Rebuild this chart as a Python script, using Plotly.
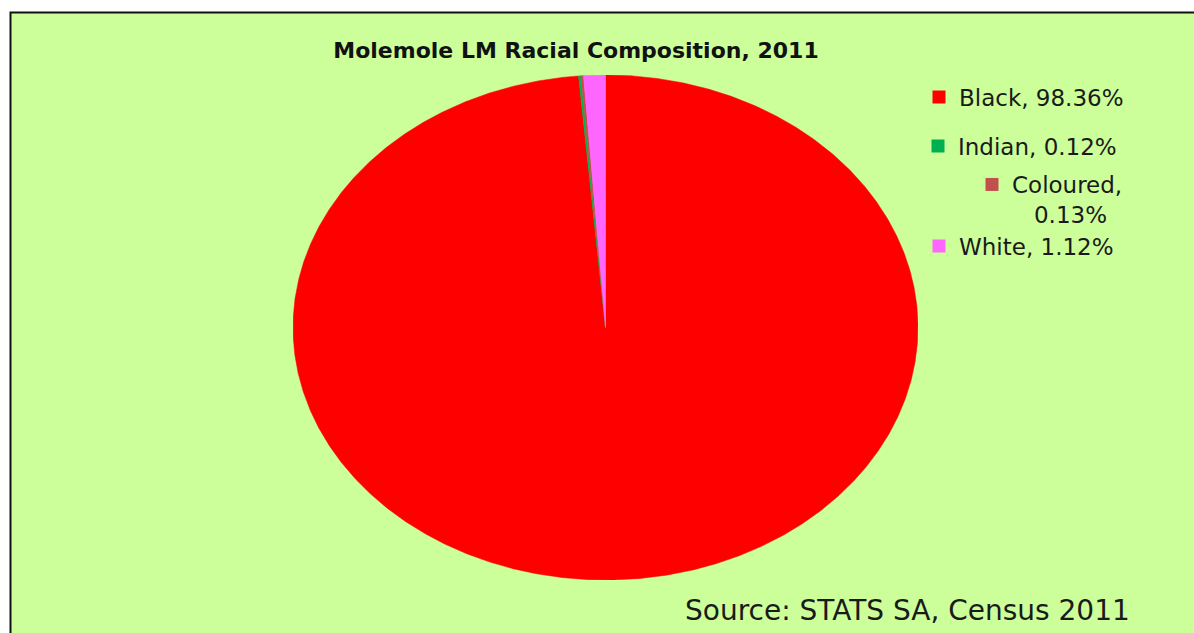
import numpy as np
import plotly.graph_objects as go

# ---- data ----
categories = ["Black", "Indian", "Coloured", "White"]
percentages = [98.36, 0.12, 0.13, 1.12]
legend_labels = ["Black, 98.36%", "Indian, 0.12%",
                 "Coloured,<br>\u00a0\u00a0\u00a00.13%", "White, 1.12%"]
colors = ["#FF0000", "#00B050", "#C0504D", "#FF66FF"]
title_text = "Molemole LM Racial Composition, 2011"
source_text = "Source: STATS SA, Census 2011"

W, H = 1194, 633
def px(x):
    return x / W
def py(y):
    return 1 - y / H

fig = go.Figure()

# pie slices drawn as filled polygons (elliptical pie), clockwise from 12 o'clock
total = sum(percentages)
cum = 0.0
for cat, val, col in zip(categories, percentages, colors):
    frac = val / total
    a0 = np.pi / 2 - 2 * np.pi * cum
    a1 = np.pi / 2 - 2 * np.pi * (cum + frac)
    n = max(3, int(frac * 1440) + 3)
    t = np.linspace(a0, a1, n)
    xs = np.concatenate([[0], np.cos(t), [0]])
    ys = np.concatenate([[0], np.sin(t), [0]])
    fig.add_trace(go.Scatter(x=xs, y=ys, mode="lines", fill="toself",
                             fillcolor=col, line=dict(color=col, width=0.5),
                             showlegend=False, hoverinfo="text", text=cat,
                             xaxis="x", yaxis="y"))
    cum += frac

# legend entries, each in its own legend box
legend_ids = ["legend", "legend2", "legend3", "legend4"]
for lab, col, lid in zip(legend_labels, colors, legend_ids):
    fig.add_trace(go.Scatter(x=[None], y=[None], mode="markers",
                             marker=dict(symbol="square", size=13, color=col),
                             name=lab, legend=lid, showlegend=True))

legend_font = dict(family="DejaVu Sans", size=23, color="#1a1a1a")
common = dict(font=legend_font, bgcolor="rgba(0,0,0,0)", borderwidth=0,
              xanchor="left", itemclick=False, itemdoubleclick=False)

fig.update_layout(
    width=W, height=H,
    margin=dict(l=0, r=0, t=0, b=0),
    paper_bgcolor="white",
    plot_bgcolor="rgba(0,0,0,0)",
    xaxis=dict(domain=[px(293), px(918)], range=[-1, 1], visible=False,
               fixedrange=True),
    yaxis=dict(domain=[py(580), py(75)], range=[-1, 1], visible=False,
               fixedrange=True),
    legend=dict(x=px(919), y=py(97), yanchor="middle", **common),
    legend2=dict(x=px(918), y=py(146), yanchor="middle", **common),
    legend3=dict(x=px(972), y=py(163), yanchor="top", valign="top", **common),
    legend4=dict(x=px(919), y=py(246), yanchor="middle", **common),
    title=dict(text="<b>" + title_text + "</b>", x=px(576), xanchor="center",
               y=py(50), yanchor="middle",
               font=dict(family="DejaVu Sans", size=22, color="#111111")),
    shapes=[dict(type="rect", xref="paper", yref="paper",
                 x0=px(10.5), x1=1.02, y0=-0.02, y1=py(12.5),
                 fillcolor="#CCFF99", line=dict(color="#111111", width=2),
                 layer="below")],
    annotations=[dict(text=source_text, xref="paper", yref="paper",
                      x=px(907), y=py(610), xanchor="center", yanchor="middle",
                      showarrow=False,
                      font=dict(family="DejaVu Sans", size=28, color="#1a1a1a"))],
    showlegend=True,
)

fig.write_html("out.html",
               config={"displayModeBar": False},
               post_script="document.body.style.margin='0';"
                           "document.body.style.overflow='hidden';")
